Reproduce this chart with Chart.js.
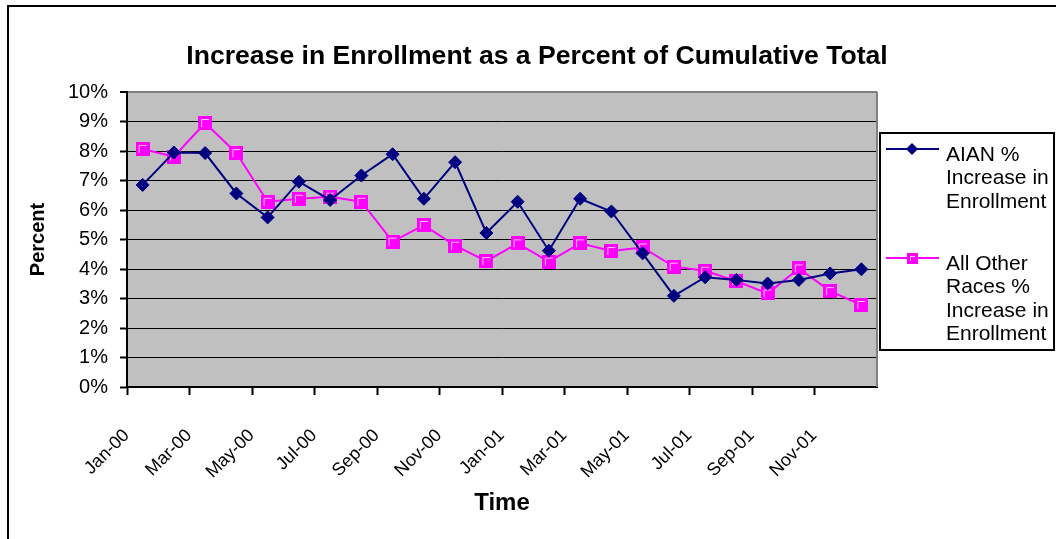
<!DOCTYPE html>
<html>
<head>
<meta charset="utf-8">
<title>Increase in Enrollment</title>
<script src="https://cdn.jsdelivr.net/npm/chart.js@4/dist/chart.umd.min.js"></script>
<style>
html, body { margin: 0; padding: 0; background: #fff; }
#wrap { width: 1056px; height: 539px; position: relative; }
</style>
</head>
<body>
<div id="wrap"><canvas id="chart"></canvas></div>
<script>
// Chart data
const months = ['Jan-00', 'Feb-00', 'Mar-00', 'Apr-00', 'May-00', 'Jun-00',
                'Jul-00', 'Aug-00', 'Sep-00', 'Oct-00', 'Nov-00', 'Dec-00',
                'Jan-01', 'Feb-01', 'Mar-01', 'Apr-01', 'May-01', 'Jun-01',
                'Jul-01', 'Aug-01', 'Sep-01', 'Oct-01', 'Nov-01', 'Dec-01'];
const aian = [6.85, 7.95, 7.93, 6.56, 5.75, 6.96, 6.34, 7.17, 7.89, 6.38, 7.62, 5.22,
              6.28, 4.62, 6.38, 5.95, 4.53, 3.09, 3.72, 3.63, 3.51, 3.63, 3.85, 3.99];
const otherRaces = [8.07, 7.81, 8.95, 7.93, 6.28, 6.38, 6.45, 6.28, 4.93, 5.49, 4.79, 4.27,
                    4.87, 4.25, 4.87, 4.61, 4.73, 4.08, 3.94, 3.59, 3.17, 4.02, 3.25, 2.78];
const yTicks = [0, 1, 2, 3, 4, 5, 6, 7, 8, 9, 10];
const chartTitle = 'Increase in Enrollment as a Percent of Cumulative Total';
const legendLines = [
    ['AIAN %', 'Increase in', 'Enrollment'],
    ['All Other', 'Races %', 'Increase in', 'Enrollment']
];

const FONT = '"Liberation Sans", Arial, sans-serif';
Chart.defaults.font.family = FONT;
Chart.defaults.color = '#000';

// Excel style square marker: magenta with a light inner edge top/left
function squareMarker(size) {
    const c = document.createElement('canvas');
    c.width = size;
    c.height = size;
    const g = c.getContext('2d');
    g.fillStyle = '#FF00FF';
    g.fillRect(0, 0, size, size);
    g.strokeStyle = '#FFC8FF';
    g.lineWidth = 1;
    g.beginPath();
    g.moveTo(3.5, size - 3);
    g.lineTo(3.5, 3.5);
    g.lineTo(size - 3, 3.5);
    g.stroke();
    return c;
}
const pinkSquare = squareMarker(14);

// grey plot background, grey right edge, outer chart frame and title
const plotBackground = {
    id: 'plotBackground',
    beforeDraw(chart) {
        const {ctx, chartArea: a} = chart;
        ctx.save();
        ctx.fillStyle = '#C0C0C0';
        ctx.fillRect(a.left, a.top, a.right - a.left, a.bottom - a.top);
        ctx.strokeStyle = '#000';
        ctx.lineWidth = 2;
        ctx.strokeRect(8, 6, chart.width + 50, chart.height + 50);
        ctx.fillStyle = '#000';
        ctx.font = 'bold 26.6px ' + FONT;
        ctx.textAlign = 'center';
        ctx.textBaseline = 'middle';
        ctx.fillText(chartTitle, 537, 57);
        ctx.restore();
    },
    afterDraw(chart) {
        const {ctx, chartArea: a} = chart;
        ctx.save();
        ctx.strokeStyle = '#808080';
        ctx.lineWidth = 2;
        ctx.beginPath();
        ctx.moveTo(a.right, a.top);
        ctx.lineTo(a.right, a.bottom);
        ctx.stroke();
        ctx.restore();
    }
};

// boxed legend on the right with wrapped labels
const sideLegend = {
    id: 'sideLegend',
    afterDraw(chart) {
        const {ctx, chartArea: a} = chart;
        const left = a.right + 3;
        const top = 133;
        ctx.save();
        ctx.strokeStyle = '#000';
        ctx.lineWidth = 2;
        ctx.strokeRect(left, top, 174, 217);
        ctx.font = '21px ' + FONT;
        ctx.textBaseline = 'middle';
        const entryTops = [top + 16, top + 125];
        chart.data.datasets.forEach((ds, i) => {
            const ly = entryTops[i];
            ctx.strokeStyle = ds.borderColor;
            ctx.lineWidth = 2;
            ctx.beginPath();
            ctx.moveTo(left + 6, ly);
            ctx.lineTo(left + 59, ly);
            ctx.stroke();
            if (ds.pointStyle === 'rectRot') {
                ctx.fillStyle = ds.pointBackgroundColor;
                ctx.beginPath();
                ctx.moveTo(left + 32 - 6, ly);
                ctx.lineTo(left + 32, ly - 6);
                ctx.lineTo(left + 32 + 6, ly);
                ctx.lineTo(left + 32, ly + 6);
                ctx.closePath();
                ctx.fill();
            } else {
                ctx.drawImage(squareMarker(11), left + 27, ly - 5);
            }
            ctx.fillStyle = '#000';
            legendLines[i].forEach((t, j) => {
                ctx.fillText(t, left + 66, ly + 6 + j * 23.5);
            });
        });
        ctx.restore();
    }
};

const chart = new Chart(document.getElementById('chart'), {
    type: 'line',
    data: {
        labels: months,
        datasets: [{
            label: 'AIAN % Increase in Enrollment',
            data: aian,
            borderColor: '#000080',
            backgroundColor: '#000080',
            pointBackgroundColor: '#000080',
            pointBorderColor: '#000080',
            pointStyle: 'rectRot',
            pointRadius: 6.5,
            pointBorderWidth: 1,
            borderWidth: 2,
            tension: 0
        }, {
            label: 'All Other Races % Increase in Enrollment',
            data: otherRaces,
            borderColor: '#FF00FF',
            backgroundColor: '#FF00FF',
            pointBackgroundColor: '#FF00FF',
            pointBorderColor: '#FF00FF',
            pointStyle: pinkSquare,
            pointRadius: 7,
            borderWidth: 2,
            tension: 0
        }]
    },
    options: {
        responsive: true,
        maintainAspectRatio: false,
        animation: false,
        devicePixelRatio: 1,
        layout: { padding: { left: 0, right: 179, top: 92, bottom: 0 } },
        plugins: {
            legend: { display: false },
            tooltip: { enabled: false },
            title: { display: false }
        },
        scales: {
            x: {
                offset: true,
                grid: {
                    offset: true,
                    drawOnChartArea: false,
                    tickLength: 8,
                    tickWidth: 2,
                    tickColor: c => (c.index % 2 === 0 ? '#000' : 'rgba(0,0,0,0)')
                },
                border: { color: '#000', width: 2 },
                ticks: {
                    autoSkip: false,
                    minRotation: 45,
                    maxRotation: 45,
                    labelOffset: -16,
                    padding: 30,
                    font: { size: 18 },
                    color: '#000',
                    callback: (v, i) => (i % 2 === 0 ? months[i] : '')
                },
                title: {
                    display: true,
                    text: 'Time',
                    font: { size: 24, weight: 'bold' },
                    color: '#000',
                    padding: { top: 0, bottom: 21 }
                },
                afterFit: s => { s.height = 152; }
            },
            y: {
                min: 0,
                max: 10,
                afterBuildTicks: s => { s.ticks = yTicks.map(v => ({ value: v })); },
                ticks: {
                    padding: 12,
                    font: { size: 20 },
                    color: '#000',
                    callback: v => v + '%'
                },
                grid: {
                    color: c => (c.tick && c.tick.value === 10 ? '#808080' : '#000'),
                    lineWidth: c => (c.tick && c.tick.value === 10 ? 2 : 1),
                    tickColor: '#000',
                    tickLength: 7,
                    tickWidth: 2
                },
                border: { color: '#000', width: 2 },
                title: {
                    display: true,
                    text: 'Percent',
                    font: { size: 20, weight: 'bold' },
                    color: '#000',
                    padding: { top: 26, bottom: 0 }
                },
                afterFit: s => { s.width = 127; }
            }
        }
    },
    plugins: [plotBackground, sideLegend]
});
</script>
</body>
</html>
